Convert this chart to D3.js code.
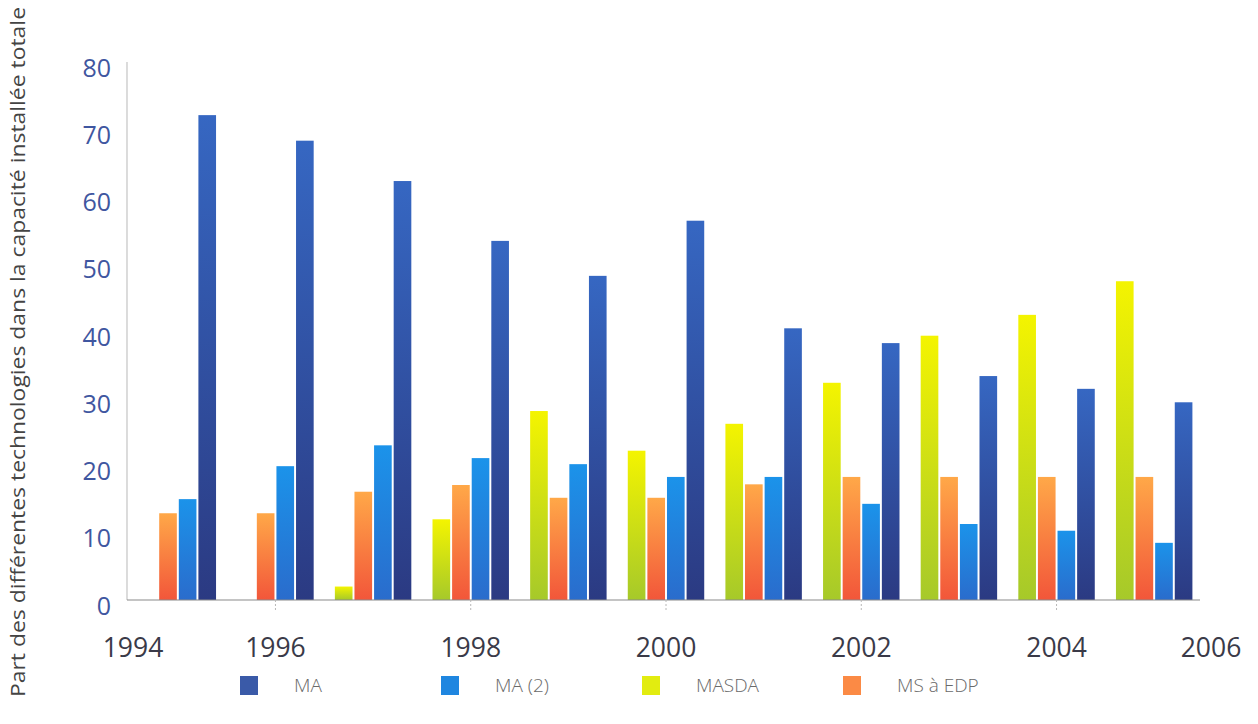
<!DOCTYPE html>
<html>
<head>
<meta charset="utf-8">
<script src="https://cdn.jsdelivr.net/npm/d3@7"></script>
<style>
  html, body { margin: 0; padding: 0; background: #ffffff; }
  svg { display: block; }
</style>
</head>
<body>
<svg id="chart" width="1258" height="724"></svg>
<script>
// Share of each technology in total installed capacity (%), 1995–2005
const years = [1995, 1996, 1997, 1998, 1999, 2000, 2001, 2002, 2003, 2004, 2005];
const seriesNames = ["MASDA", "MS à EDP", "MA (2)", "MA"];
const masda = [0, 0, 2, 12, 28.1, 22.2, 26.2, 32.3, 39.3, 42.4, 47.4];
const msEdp = [12.9, 12.9, 16.1, 17.1, 15.2, 15.2, 17.2, 18.3, 18.3, 18.3, 18.3];
const ma2   = [15.0, 19.9, 23.0, 21.1, 20.2, 18.3, 18.3, 14.3, 11.3, 10.3, 8.5];
const ma    = [72.1, 68.3, 62.3, 53.4, 48.2, 56.4, 40.4, 38.2, 33.3, 31.4, 29.4];
const yTicks = [0, 10, 20, 30, 40, 50, 60, 70, 80];
const yearLabels = [1994, 1996, 1998, 2000, 2002, 2004, 2006];
const legendOrder = ["MA", "MA (2)", "MASDA", "MS à EDP"];
const yTitle = "Part des différentes technologies dans la capacité installée totale";

const valuesBySeries = { "MASDA": masda, "MS à EDP": msEdp, "MA (2)": ma2, "MA": ma };
const gradients = {
  "MA":       ["#3667c2", "#2b3a82"],
  "MA (2)":   ["#1b93ea", "#2a6ccc"],
  "MASDA":    ["#f4f400", "#a6c92a"],
  "MS à EDP": ["#ffa848", "#f2563a"]
};
const legendColors = { "MA": "#3a5aa8", "MA (2)": "#1f86e0", "MASDA": "#e2ec10", "MS à EDP": "#fb8a45" };

const svg = d3.select("#chart");
const defs = svg.append("defs");
Object.entries(gradients).forEach(([name, [c0, c1]], i) => {
  const g = defs.append("linearGradient")
    .attr("id", "grad" + i).attr("x1", 0).attr("y1", 0).attr("x2", 0).attr("y2", 1);
  g.append("stop").attr("offset", "0%").attr("stop-color", c0);
  g.append("stop").attr("offset", "100%").attr("stop-color", c1);
  gradients[name].id = "grad" + i;
});

// scales
const x = d3.scaleBand().domain(years).range([129, 1203]).paddingInner(0.217).paddingOuter(0.1085);
const xs = d3.scaleBand().domain(seriesNames).range([0, x.bandwidth()]).paddingInner(0.1).paddingOuter(0);
const y = d3.scaleLinear().domain([0, 80]).range([600, 62]);

// y axis line
svg.append("line")
  .attr("x1", 127).attr("x2", 127).attr("y1", y(80)).attr("y2", y(0))
  .attr("stroke", "#c4c4c4").attr("stroke-width", 1.2);

// y tick labels
svg.append("g").selectAll("text").data(yTicks).join("text")
  .attr("x", 111).attr("y", d => y(d) + 8)
  .attr("text-anchor", "end").attr("dominant-baseline", "middle")
  .attr("font-family", "'Open Sans', 'DejaVu Sans', sans-serif")
  .attr("font-size", 25).attr("fill", "#3f56a0")
  .text(d => d);

// bars
const groups = svg.append("g").selectAll("g").data(years).join("g")
  .attr("transform", d => `translate(${x(d)},0)`);
groups.selectAll("rect")
  .data((yr, i) => seriesNames.map(s => ({ s, v: valuesBySeries[s][i] })).filter(d => d.v > 0))
  .join("rect")
  .attr("x", d => xs(d.s))
  .attr("width", xs.bandwidth())
  .attr("y", d => y(d.v))
  .attr("height", d => y(0) - y(d.v))
  .attr("fill", d => `url(#${gradients[d.s].id})`);

// baseline
svg.append("line")
  .attr("x1", 127).attr("x2", 1200).attr("y1", y(0)).attr("y2", y(0))
  .attr("stroke", "#8a8a8a").attr("stroke-width", 1.2);

// year labels along the bottom
const [r0, r1] = x.range();
const yearX = yr => years.includes(yr) ? x(yr) + x.bandwidth() / 2 : (yr < years[0] ? r0 + 4 : r1 + 8);
svg.append("g").selectAll("line").data(yearLabels.filter(d => years.includes(d))).join("line")
  .attr("x1", d => yearX(d)).attr("x2", d => yearX(d))
  .attr("y1", y(0)).attr("y2", y(0) + 10)
  .attr("stroke", "#b8b8b8").attr("stroke-width", 1).attr("stroke-dasharray", "2,2");
svg.append("g").selectAll("text").data(yearLabels).join("text")
  .attr("x", d => yearX(d)).attr("y", 650)
  .attr("text-anchor", "middle").attr("dominant-baseline", "middle")
  .attr("font-family", "'Open Sans', 'DejaVu Sans', sans-serif")
  .attr("font-size", 26.5).attr("fill", "#3a3a48")
  .text(d => d);

// y axis title
svg.append("text")
  .attr("transform", "translate(25,352) rotate(-90)")
  .attr("text-anchor", "middle")
  .attr("font-family", "'Liberation Sans Narrow', 'Open Sans', sans-serif")
  .attr("font-size", 20).attr("fill", "#444444")
  .attr("textLength", 690).attr("lengthAdjust", "spacingAndGlyphs")
  .text(yTitle);

// legend
const lx = d3.scaleBand().domain(legendOrder).range([240, 1044]);
const legend = svg.append("g").selectAll("g").data(legendOrder).join("g")
  .attr("transform", d => `translate(${lx(d)},676)`);
legend.append("rect")
  .attr("width", 18).attr("height", 19)
  .attr("fill", d => legendColors[d]);
legend.append("text")
  .attr("x", 54).attr("y", 11)
  .attr("dominant-baseline", "middle")
  .attr("font-family", "'Open Sans', 'DejaVu Sans', sans-serif")
  .attr("font-weight", 300)
  .attr("font-size", 19).attr("fill", "#6a6a6a")
  .text(d => d);
</script>
</body>
</html>
